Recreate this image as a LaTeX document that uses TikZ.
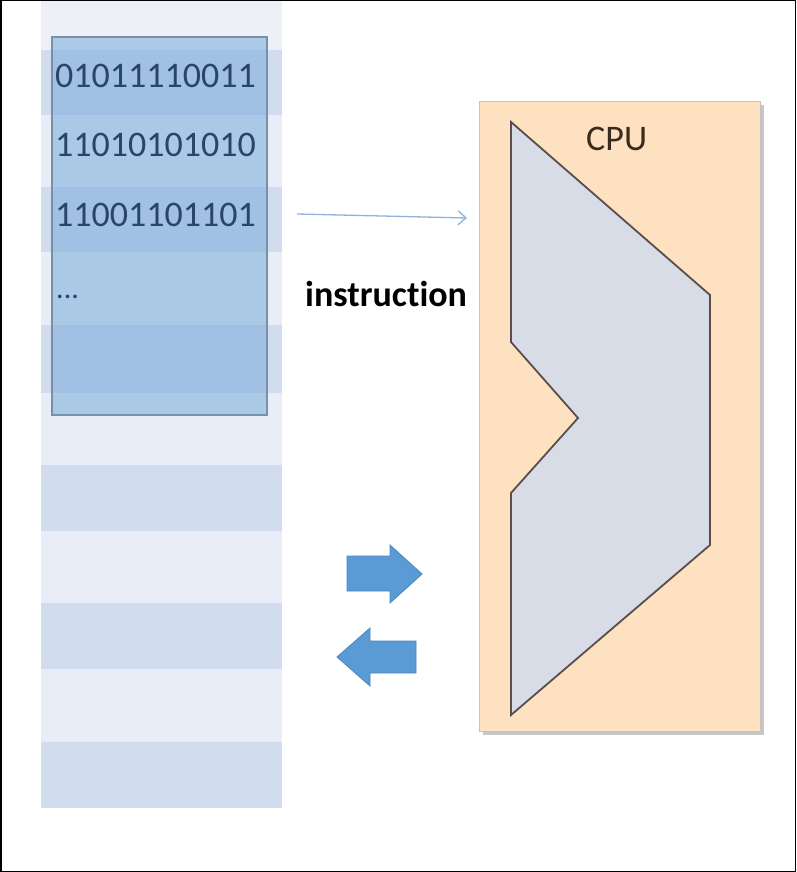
\documentclass[tikz,border=0pt]{standalone}
\usepackage{fontspec}
\setmainfont{Carlito}[Ligatures=NoCommon]
\usetikzlibrary{arrows.meta}
\definecolor{stripeT}{HTML}{EEF0F7}
\definecolor{stripeL}{HTML}{E9EDF7}
\definecolor{stripeD}{HTML}{D1DCEE}
\definecolor{overlay}{HTML}{7AADDC}
\definecolor{overlayedge}{HTML}{7890A8}
\definecolor{bits}{HTML}{2B4568}
\definecolor{cpufill}{HTML}{FDE1C0}
\definecolor{cpuedge}{HTML}{C9C2BA}
\definecolor{cputext}{HTML}{3B2A1E}
\definecolor{corefill}{HTML}{D7DCE6}
\definecolor{coreedge}{HTML}{5A4E4C}
\definecolor{blockarrow}{HTML}{5B9BD5}
\definecolor{blockedge}{HTML}{4A86BF}
\definecolor{thinarrow}{HTML}{8DB3DE}
\tikzset{
  bitrow/.style={anchor=base west, inner sep=0pt, text=bits, font=\fontsize{36}{36}\selectfont},
  txtlabel/.style={anchor=base west, inner sep=0pt},
  blockarr/.style={fill=blockarrow, draw=blockedge, line width=0.8pt, line join=miter}
}
\begin{document}
\begin{tikzpicture}[x=1pt,y=-1pt]
\useasboundingbox (0,0) rectangle (796,872);
\fill[white] (0,0) rectangle (796,872);
% memory stripes
\foreach \a/\b/\c in {0/50/stripeT,50/115/stripeD,115/187/stripeL,187/252/stripeD,252/325/stripeL,325/393/stripeD,393/465/stripeL,465/531/stripeD,531/603/stripeL,603/669/stripeD,669/742/stripeL,742/808/stripeD}
  \fill[\c] (41,\a) rectangle (282,\b);
% overlay block
\node (mem) [draw=overlayedge, line width=1.5pt, fill=overlay, fill opacity=0.56, draw opacity=1,
  minimum width=215pt, minimum height=378pt, inner sep=0pt] at (159.5,226) {};
\node (b1) [bitrow] at (55,88) {01011110011};
\node (b2) [bitrow] at (55,157) {11010101010};
\node (b3) [bitrow] at (55,226) {11001101101};
\node (b4) [bitrow, font=\fontsize{30}{30}\selectfont] at (56,298) {...};
% CPU box
\fill[gray!45] (483,105) rectangle (764,735);
\node (cpu) [draw=cpuedge, line width=0.8pt, fill=cpufill, minimum width=281pt, minimum height=630pt, inner sep=0pt] at (619.5,416) {};
\node (cpulabel) [txtlabel, text=cputext, font=\fontsize{36}{36}\selectfont] at (586,150) {CPU};
% core polygon
\draw[fill=corefill, draw=coreedge, line width=1.8pt, line join=miter]
  (511,122) -- (710,295) -- (710,545) -- (511,715) -- (511,493) -- (578,418) -- (511,342) -- cycle;
% instruction arrow
\coordinate (instart) at (297,214);
\coordinate (inend) at (467,218);
\draw[thinarrow, line width=1.3pt, -{Straight Barb[length=8pt,width=14pt]}] (instart) -- (inend);
\node (instr) [txtlabel, font=\fontsize{36}{36}\selectfont\bfseries] at (305,306) {instruction};
% block arrows
\draw[blockarr] (347,556) -- (390,556) -- (390,545) -- (422,574) -- (390,603) -- (390,591) -- (347,591) -- cycle;
\draw[blockarr] (416,641) -- (370,641) -- (370,628) -- (337,657) -- (370,686) -- (370,673) -- (416,673) -- cycle;
% frame
\draw[black, line width=1.5pt] (0.75,0.75) rectangle (795.25,871.25);
\end{tikzpicture}
\end{document}
